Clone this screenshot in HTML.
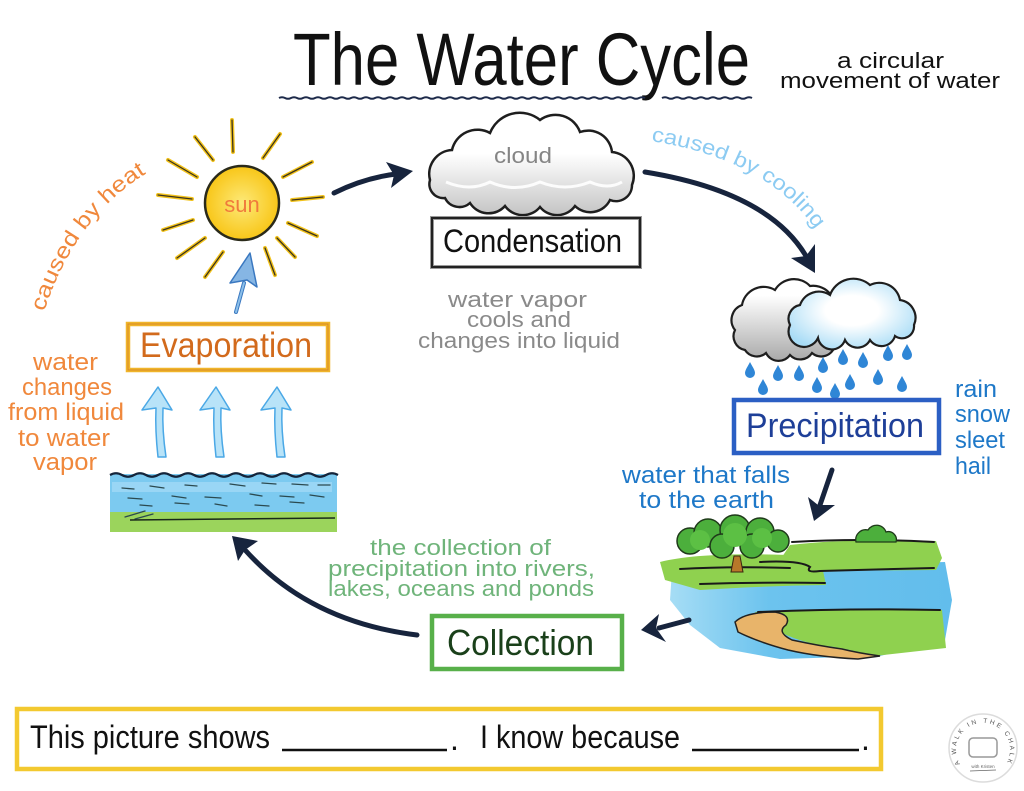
<!DOCTYPE html>
<html><head><meta charset="utf-8"><style>html,body{margin:0;padding:0;background:#fff;}svg{display:block;}</style></head>
<body>
<svg width="1024" height="791" viewBox="0 0 1024 791" xmlns="http://www.w3.org/2000/svg" font-family="'Liberation Sans', sans-serif">
<defs>
 <linearGradient id="cg" x1="0" y1="0" x2="0" y2="1"><stop offset="0.4" stop-color="#ffffff"/><stop offset="1" stop-color="#c4c4c4"/></linearGradient>
 <linearGradient id="gg" x1="0" y1="0" x2="0" y2="1"><stop offset="0.2" stop-color="#ffffff"/><stop offset="1" stop-color="#a9a9a9"/></linearGradient>
 <radialGradient id="bcg" cx="0.5" cy="0.45" r="0.6"><stop offset="0.35" stop-color="#ffffff"/><stop offset="1" stop-color="#a8dcf6"/></radialGradient>
 <radialGradient id="sg"><stop offset="0" stop-color="#fde978"/><stop offset="1" stop-color="#f8c618"/></radialGradient>
 <linearGradient id="wg" x1="0" y1="0" x2="1" y2="0"><stop offset="0" stop-color="#a6ddf5"/><stop offset="0.35" stop-color="#6cc3ee"/><stop offset="1" stop-color="#62bdec"/></linearGradient>
 <path id="heatPath" d="M44,312 Q 76,214 152,170"/>
 <path id="coolPath" d="M651,141 Q 772,160 820,236"/>
 <path id="logoPath" d="M960,764 A27,27 0 1 1 1006,764"/>
</defs>

<!-- Title -->
<text x="293" y="85" font-size="74" textLength="457" lengthAdjust="spacingAndGlyphs" fill="#111">The Water Cycle</text>
<path d="M279,98 q3,-1.6 6,0 t6,0 t6,0 t6,0 t6,0 t6,0 t6,0 t6,0 t6,0 t6,0 t6,0 t6,0 t6,0 t6,0 t6,0 t6,0 t6,0 t6,0 t6,0 t6,0 t6,0 t6,0 t6,0 t6,0 t6,0 t6,0 t6,0 t6,0 t6,0 t6,0 t6,0 t6,0 t6,0 t6,0 t6,0 t6,0 t6,0 t6,0 t6,0 t6,0 t6,0 t6,0 t6,0 t6,0 t6,0 t6,0 t6,0 t6,0 t6,0 t6,0 t6,0 t6,0 t6,0 t6,0 t6,0 t6,0 t6,0 t6,0 t6,0 t6,0 t6,0" fill="none" stroke="#1d2a4a" stroke-width="2"/>
<path d="M662,98 q3,-1.6 6,0 t6,0 t6,0 t6,0 t6,0 t6,0 t6,0 t6,0 t6,0 t6,0 t6,0 t6,0 t6,0 t6,0 t6,0" fill="none" stroke="#1d2a4a" stroke-width="2"/>
<text x="837" y="68" font-size="22" textLength="107" lengthAdjust="spacingAndGlyphs" fill="#111">a circular</text>
<text x="780" y="88" font-size="22" textLength="220" lengthAdjust="spacingAndGlyphs" fill="#111">movement of water</text>

<!-- Sun rays -->
<g stroke-linecap="round">
 <g stroke="#f2c21a" stroke-width="4">
  <line x1="232" y1="120" x2="233" y2="152"/><line x1="195" y1="137" x2="213" y2="160"/><line x1="280" y1="134" x2="263" y2="158"/>
  <line x1="168" y1="160" x2="197" y2="177"/><line x1="312" y1="162" x2="283" y2="177"/><line x1="158" y1="195" x2="192" y2="199"/>
  <line x1="323" y1="197" x2="292" y2="200"/><line x1="163" y1="230" x2="193" y2="220"/><line x1="317" y1="236" x2="288" y2="223"/>
  <line x1="177" y1="258" x2="205" y2="238"/><line x1="295" y1="257" x2="277" y2="238"/><line x1="205" y1="277" x2="223" y2="252"/>
  <line x1="275" y1="275" x2="265" y2="248"/>
 </g>
 <g stroke="#3a3320" stroke-width="1.3">
  <line x1="232" y1="120" x2="233" y2="152"/><line x1="195" y1="137" x2="213" y2="160"/><line x1="280" y1="134" x2="263" y2="158"/>
  <line x1="168" y1="160" x2="197" y2="177"/><line x1="312" y1="162" x2="283" y2="177"/><line x1="158" y1="195" x2="192" y2="199"/>
  <line x1="323" y1="197" x2="292" y2="200"/><line x1="163" y1="230" x2="193" y2="220"/><line x1="317" y1="236" x2="288" y2="223"/>
  <line x1="177" y1="258" x2="205" y2="238"/><line x1="295" y1="257" x2="277" y2="238"/><line x1="205" y1="277" x2="223" y2="252"/>
  <line x1="275" y1="275" x2="265" y2="248"/>
 </g>
</g>
<circle cx="242" cy="203" r="37" fill="url(#sg)" stroke="#2a2a1a" stroke-width="2.5"/>
<text x="242" y="212" font-size="22" text-anchor="middle" fill="#f07a3c">sun</text>

<!-- caused by heat -->
<text font-size="22" fill="#f0883c"><textPath href="#heatPath" textLength="176" lengthAdjust="spacingAndGlyphs">caused by heat</textPath></text>

<!-- Arrow sun -> cloud -->
<path d="M334,193 Q 364,178 396,174" fill="none" stroke="#17243d" stroke-width="5" stroke-linecap="round"/>
<polygon points="413,171 386,162 394,175 391,188" fill="#17243d"/>

<!-- Cloud (condensation) -->
<path d="M430,180 A24,24 0 0 1 452,150 A26,26 0 0 1 490,133 A32,32 0 0 1 540,120 A26,26 0 0 1 580,132 A24,24 0 0 1 612,152 A24,24 0 0 1 632,185 A16,16 0 0 1 610,200 A22,22 0 0 1 575,206 A22,22 0 0 1 540,207 A22,22 0 0 1 505,206 A22,22 0 0 1 470,203 A16,16 0 0 1 445,198 A14,14 0 0 1 430,180 Z" fill="url(#cg)" stroke="#1e1e1e" stroke-width="2.5"/>
<path d="M446,182 Q 470,192 490,182 Q 515,193 540,182 Q 565,192 590,182 Q 608,190 622,182" fill="none" stroke="#ffffff" stroke-width="3" opacity="0.9"/>
<text x="494" y="163" font-size="22" textLength="58" lengthAdjust="spacingAndGlyphs" fill="#858585">cloud</text>

<!-- Condensation box -->
<rect x="432" y="218" width="208" height="49" fill="#fff" stroke="#9a9a9a" stroke-width="4"/>
<rect x="432" y="218" width="208" height="49" fill="none" stroke="#222" stroke-width="2"/>
<text x="443" y="252" font-size="32" textLength="179" lengthAdjust="spacingAndGlyphs" fill="#111">Condensation</text>

<!-- gray text -->
<g font-size="22" fill="#8a8a8a">
 <text x="448" y="307" textLength="139" lengthAdjust="spacingAndGlyphs">water vapor</text>
 <text x="467" y="327" textLength="104" lengthAdjust="spacingAndGlyphs">cools and</text>
 <text x="418" y="348" textLength="202" lengthAdjust="spacingAndGlyphs">changes into liquid</text>
</g>

<!-- caused by cooling -->
<text font-size="21" fill="#8ccbf2"><textPath href="#coolPath" textLength="192" lengthAdjust="spacingAndGlyphs">caused by cooling</textPath></text>

<!-- Arrow cloud -> precipitation -->
<path d="M645,172 Q 768,192 806,256" fill="none" stroke="#17243d" stroke-width="5" stroke-linecap="round"/>
<polygon points="815,273 791,258 806,256 815,244" fill="#17243d"/>

<!-- Rain clouds -->
<path d="M735,330 A16,16 0 0 1 742,305 A22,22 0 0 1 775,290 A22,22 0 0 1 810,286 A22,22 0 0 1 835,310 L835,345 A14,14 0 0 1 812,353 A14,14 0 0 1 790,355 A14,14 0 0 1 766,353 A14,14 0 0 1 745,350 A14,14 0 0 1 735,330 Z" fill="url(#gg)" stroke="#1e1e1e" stroke-width="2.2"/>
<path d="M790,325 A14,14 0 0 1 800,305 A20,20 0 0 1 830,295 A25,25 0 0 1 870,285 A21,21 0 0 1 900,300 A18,18 0 0 1 914,325 A12,12 0 0 1 895,336 A14,14 0 0 1 870,340 A14,14 0 0 1 845,340 A14,14 0 0 1 818,338 A14,14 0 0 1 790,325 Z" fill="url(#bcg)" stroke="#1e1e1e" stroke-width="2.2"/>
<g fill="#2f86d6">
 <path d="M750,362 C752,366 755,370 755,373 A5,5 0 0 1 745,373 C745,370 748,366 750,362 Z"/>
 <path d="M778,365 C780,369 783,373 783,376 A5,5 0 0 1 773,376 C773,373 776,369 778,365 Z"/>
 <path d="M799,365 C801,369 804,373 804,376 A5,5 0 0 1 794,376 C794,373 797,369 799,365 Z"/>
 <path d="M823,357 C825,361 828,365 828,368 A5,5 0 0 1 818,368 C818,365 821,361 823,357 Z"/>
 <path d="M843,349 C845,353 848,357 848,360 A5,5 0 0 1 838,360 C838,357 841,353 843,349 Z"/>
 <path d="M863,352 C865,356 868,360 868,363 A5,5 0 0 1 858,363 C858,360 861,356 863,352 Z"/>
 <path d="M888,345 C890,349 893,353 893,356 A5,5 0 0 1 883,356 C883,353 886,349 888,345 Z"/>
 <path d="M907,344 C909,348 912,352 912,355 A5,5 0 0 1 902,355 C902,352 905,348 907,344 Z"/>
 <path d="M763,379 C765,383 768,387 768,390 A5,5 0 0 1 758,390 C758,387 761,383 763,379 Z"/>
 <path d="M817,377 C819,381 822,385 822,388 A5,5 0 0 1 812,388 C812,385 815,381 817,377 Z"/>
 <path d="M835,383 C837,387 840,391 840,394 A5,5 0 0 1 830,394 C830,391 833,387 835,383 Z"/>
 <path d="M850,374 C852,378 855,382 855,385 A5,5 0 0 1 845,385 C845,382 848,378 850,374 Z"/>
 <path d="M878,369 C880,373 883,377 883,380 A5,5 0 0 1 873,380 C873,377 876,373 878,369 Z"/>
 <path d="M902,376 C904,380 907,384 907,387 A5,5 0 0 1 897,387 C897,384 900,380 902,376 Z"/>
</g>

<!-- Precipitation box -->
<rect x="734" y="400" width="205" height="53" fill="#fff" stroke="#2b5fc4" stroke-width="4.5"/>
<text x="746" y="437" font-size="34" textLength="178" lengthAdjust="spacingAndGlyphs" fill="#1e3f98">Precipitation</text>

<g font-size="24" fill="#1e78c8">
 <text x="955" y="397" textLength="42" lengthAdjust="spacingAndGlyphs">rain</text>
 <text x="955" y="422" textLength="55" lengthAdjust="spacingAndGlyphs">snow</text>
 <text x="955" y="448" textLength="50" lengthAdjust="spacingAndGlyphs">sleet</text>
 <text x="955" y="474" textLength="36" lengthAdjust="spacingAndGlyphs">hail</text>
 <text x="622" y="483" textLength="168" lengthAdjust="spacingAndGlyphs">water that falls</text>
 <text x="639" y="508" textLength="135" lengthAdjust="spacingAndGlyphs">to the earth</text>
</g>

<!-- Arrow precip -> land -->
<path d="M832,470 L820,505" fill="none" stroke="#17243d" stroke-width="5" stroke-linecap="round"/>
<polygon points="814,521 808,497 818,505 835,505" fill="#17243d"/>

<!-- Landscape -->
<g>
 <path d="M672,570 L945,562 L952,600 L945,640 L880,656 L780,659 L720,648 L690,625 L670,600 Z" fill="url(#wg)"/>
 <path d="M790,545 Q850,538 936,541 L942,558 L936,570 L810,571 Q796,563 780,560 Z" fill="#8fd14f"/>
 <path d="M660,562 Q700,552 790,555 L822,566 L826,585 Q760,586 700,590 L665,580 Z" fill="#8fd14f"/>
 <path d="M755,612 Q850,608 942,610 L946,648 L875,656 Q845,648 820,645 Q790,640 762,622 Z" fill="#8fd14f"/>
 <path d="M735,622 Q745,612 775,612 Q792,615 786,625 Q776,632 792,640 Q820,646 842,649 Q858,653 880,656 L858,659 Q818,657 788,650 Q758,642 738,632 Z" fill="#e8b46a" stroke="#222" stroke-width="1.5"/>
 <g fill="none" stroke="#1a1a1a" stroke-width="2" stroke-linecap="round">
  <path d="M792,542 Q860,538 934,542"/>
  <path d="M680,569 Q730,566 790,568"/>
  <path d="M760,562 Q800,560 810,567 Q805,573 820,571 L934,568"/>
  <path d="M700,584 Q760,582 825,583"/>
  <path d="M758,612 Q850,608 940,610"/>
 </g>
 <g fill="#4caf3c" stroke="#1f3a1a" stroke-width="1.5">
  <circle cx="690" cy="541" r="13"/><circle cx="708" cy="533" r="14"/><circle cx="735" cy="530" r="15"/>
  <circle cx="760" cy="532" r="14"/><circle cx="778" cy="541" r="11"/><circle cx="722" cy="546" r="12"/><circle cx="752" cy="546" r="12"/>
 </g>
 <g fill="#5cc044"><circle cx="700" cy="540" r="10"/><circle cx="735" cy="535" r="12"/><circle cx="762" cy="538" r="10"/></g>
 <path d="M734,556 L740,556 L743,572 L731,572 Z" fill="#b8782a" stroke="#3a2410" stroke-width="1"/>
 <path d="M856,542 A10,10 0 0 1 868,530 A10,10 0 0 1 886,532 A8,8 0 0 1 896,542 Z" fill="#4caf3c" stroke="#1f3a1a" stroke-width="1.3"/>
</g>

<!-- Arrow land -> collection -->
<path d="M689,620 L659,628" fill="none" stroke="#17243d" stroke-width="5" stroke-linecap="round"/>
<polygon points="641,630 659,614 656,628 666,642" fill="#17243d"/>

<!-- Collection -->
<rect x="432" y="616" width="190" height="53" fill="#fff" stroke="#58b04a" stroke-width="4.5"/>
<text x="447" y="655" font-size="36" textLength="147" lengthAdjust="spacingAndGlyphs" fill="#1a401a">Collection</text>
<g font-size="22" fill="#6fb47a">
 <text x="370" y="555" textLength="181" lengthAdjust="spacingAndGlyphs">the collection of</text>
 <text x="328" y="576" textLength="267" lengthAdjust="spacingAndGlyphs">precipitation into rivers,</text>
 <text x="328" y="596" textLength="266" lengthAdjust="spacingAndGlyphs">lakes, oceans and ponds</text>
</g>

<!-- Arrow collection -> water -->
<path d="M417,635 Q310,622 246,551" fill="none" stroke="#17243d" stroke-width="5" stroke-linecap="round"/>
<polygon points="232,536 258,541 245,550 238,561" fill="#17243d"/>

<!-- Water band -->
<rect x="110" y="474" width="227" height="46" fill="#7ccaf0"/>
<rect x="112" y="482" width="220" height="10" fill="#a5dcf6" opacity="0.7"/>
<rect x="110" y="512" width="227" height="20" fill="#9bd45c"/>
<path d="M110,475 q6,-3.5 12,0 t12,0 t12,0 t12,0 t12,0 t12,0 t12,0 t12,0 t12,0 t12,0 t12,0 t12,0 t12,0 t12,0 t12,0 t12,0 t12,0 t12,0 t12,0" fill="none" stroke="#14243a" stroke-width="2.2"/>
<g stroke="#2b4a50" stroke-width="1.3" fill="none" stroke-linecap="round">
 <path d="M122,488 l12,1"/><path d="M150,486 l14,2"/><path d="M185,485 l12,1"/><path d="M230,484 l15,2"/><path d="M262,483 l14,1"/><path d="M292,484 l16,1"/><path d="M318,485 l12,0"/>
 <path d="M128,498 l14,1"/><path d="M172,496 l14,2"/><path d="M205,497 l16,1"/><path d="M250,494 l12,2"/><path d="M280,496 l14,1"/><path d="M310,495 l14,2"/>
 <path d="M140,505 l12,1"/><path d="M175,503 l14,1"/><path d="M215,504 l12,2"/><path d="M255,505 l14,1"/><path d="M290,502 l14,1"/>
 <path d="M125,517 l20,-6"/><path d="M135,519 l18,-5"/>
</g>
<line x1="130" y1="520" x2="335" y2="518" stroke="#1a2a1a" stroke-width="1.5"/>

<!-- Three up arrows -->
<g fill="#b8e3f8" stroke="#4aa8e6" stroke-width="1.5" stroke-linejoin="round">
 <path d="M158,457 Q155,430 156,408 L142,410 L158,387 L172,410 L163,408 Q162,430 166,457 Z"/>
 <path d="M216,457 Q213,430 214,408 L200,410 L216,387 L230,410 L221,408 Q220,430 224,457 Z"/>
 <path d="M277,457 Q274,430 275,408 L261,410 L277,387 L291,410 L282,408 Q281,430 285,457 Z"/>
</g>

<!-- Evaporation -->
<rect x="128" y="324" width="200" height="46" fill="#fff" stroke="#f0b52a" stroke-width="4.5"/>
<rect x="128" y="324" width="200" height="46" fill="none" stroke="#d88a28" stroke-width="1"/>
<text x="140" y="357" font-size="35" textLength="172" lengthAdjust="spacingAndGlyphs" fill="#d26a1c">Evaporation</text>

<!-- Evap -> sun arrow -->
<path d="M236,312 L244,283" fill="none" stroke="#3a78c0" stroke-width="4" stroke-linecap="round"/>
<path d="M236,312 L244,283" fill="none" stroke="#8cc0ea" stroke-width="2" stroke-linecap="round"/>
<polygon points="250,253 230,283 247,280 257,287" fill="#86b6e4" stroke="#3a78c0" stroke-width="1.5" stroke-linejoin="round"/>

<!-- orange text -->
<g font-size="24" fill="#f0883c">
 <text x="33" y="370" textLength="65" lengthAdjust="spacingAndGlyphs">water</text>
 <text x="22" y="395" textLength="90" lengthAdjust="spacingAndGlyphs">changes</text>
 <text x="8" y="420" textLength="116" lengthAdjust="spacingAndGlyphs">from liquid</text>
 <text x="18" y="446" textLength="92" lengthAdjust="spacingAndGlyphs">to water</text>
 <text x="33" y="470" textLength="64" lengthAdjust="spacingAndGlyphs">vapor</text>
</g>

<!-- Bottom sentence box -->
<rect x="17" y="709" width="864" height="60" fill="#fff" stroke="#f3c930" stroke-width="4.5"/>
<text x="30" y="748" font-size="32" textLength="240" lengthAdjust="spacingAndGlyphs" fill="#111">This picture shows</text>
<line x1="282" y1="750" x2="447" y2="750" stroke="#111" stroke-width="2.5"/>
<text x="450" y="750" font-size="32" fill="#111">.</text>
<text x="480" y="748" font-size="32" textLength="200" lengthAdjust="spacingAndGlyphs" fill="#111">I know because</text>
<line x1="692" y1="750" x2="859" y2="750" stroke="#111" stroke-width="2.5"/>
<text x="861" y="750" font-size="32" fill="#111">.</text>

<!-- Logo -->
<circle cx="983" cy="748" r="34" fill="#fff" stroke="#dcdcdc" stroke-width="1.5"/>
<text font-size="6.5" fill="#555"><textPath href="#logoPath" textLength="112" lengthAdjust="spacing">A WALK IN THE CHALK</textPath></text>
<rect x="969" y="738" width="28" height="19" rx="4" fill="#fff" stroke="#999" stroke-width="1.5"/>
<text x="983" y="768" font-size="4.5" text-anchor="middle" fill="#666">with Kristen</text>
<line x1="970" y1="771" x2="996" y2="770" stroke="#666" stroke-width="0.8"/>
</svg>
</body></html>
